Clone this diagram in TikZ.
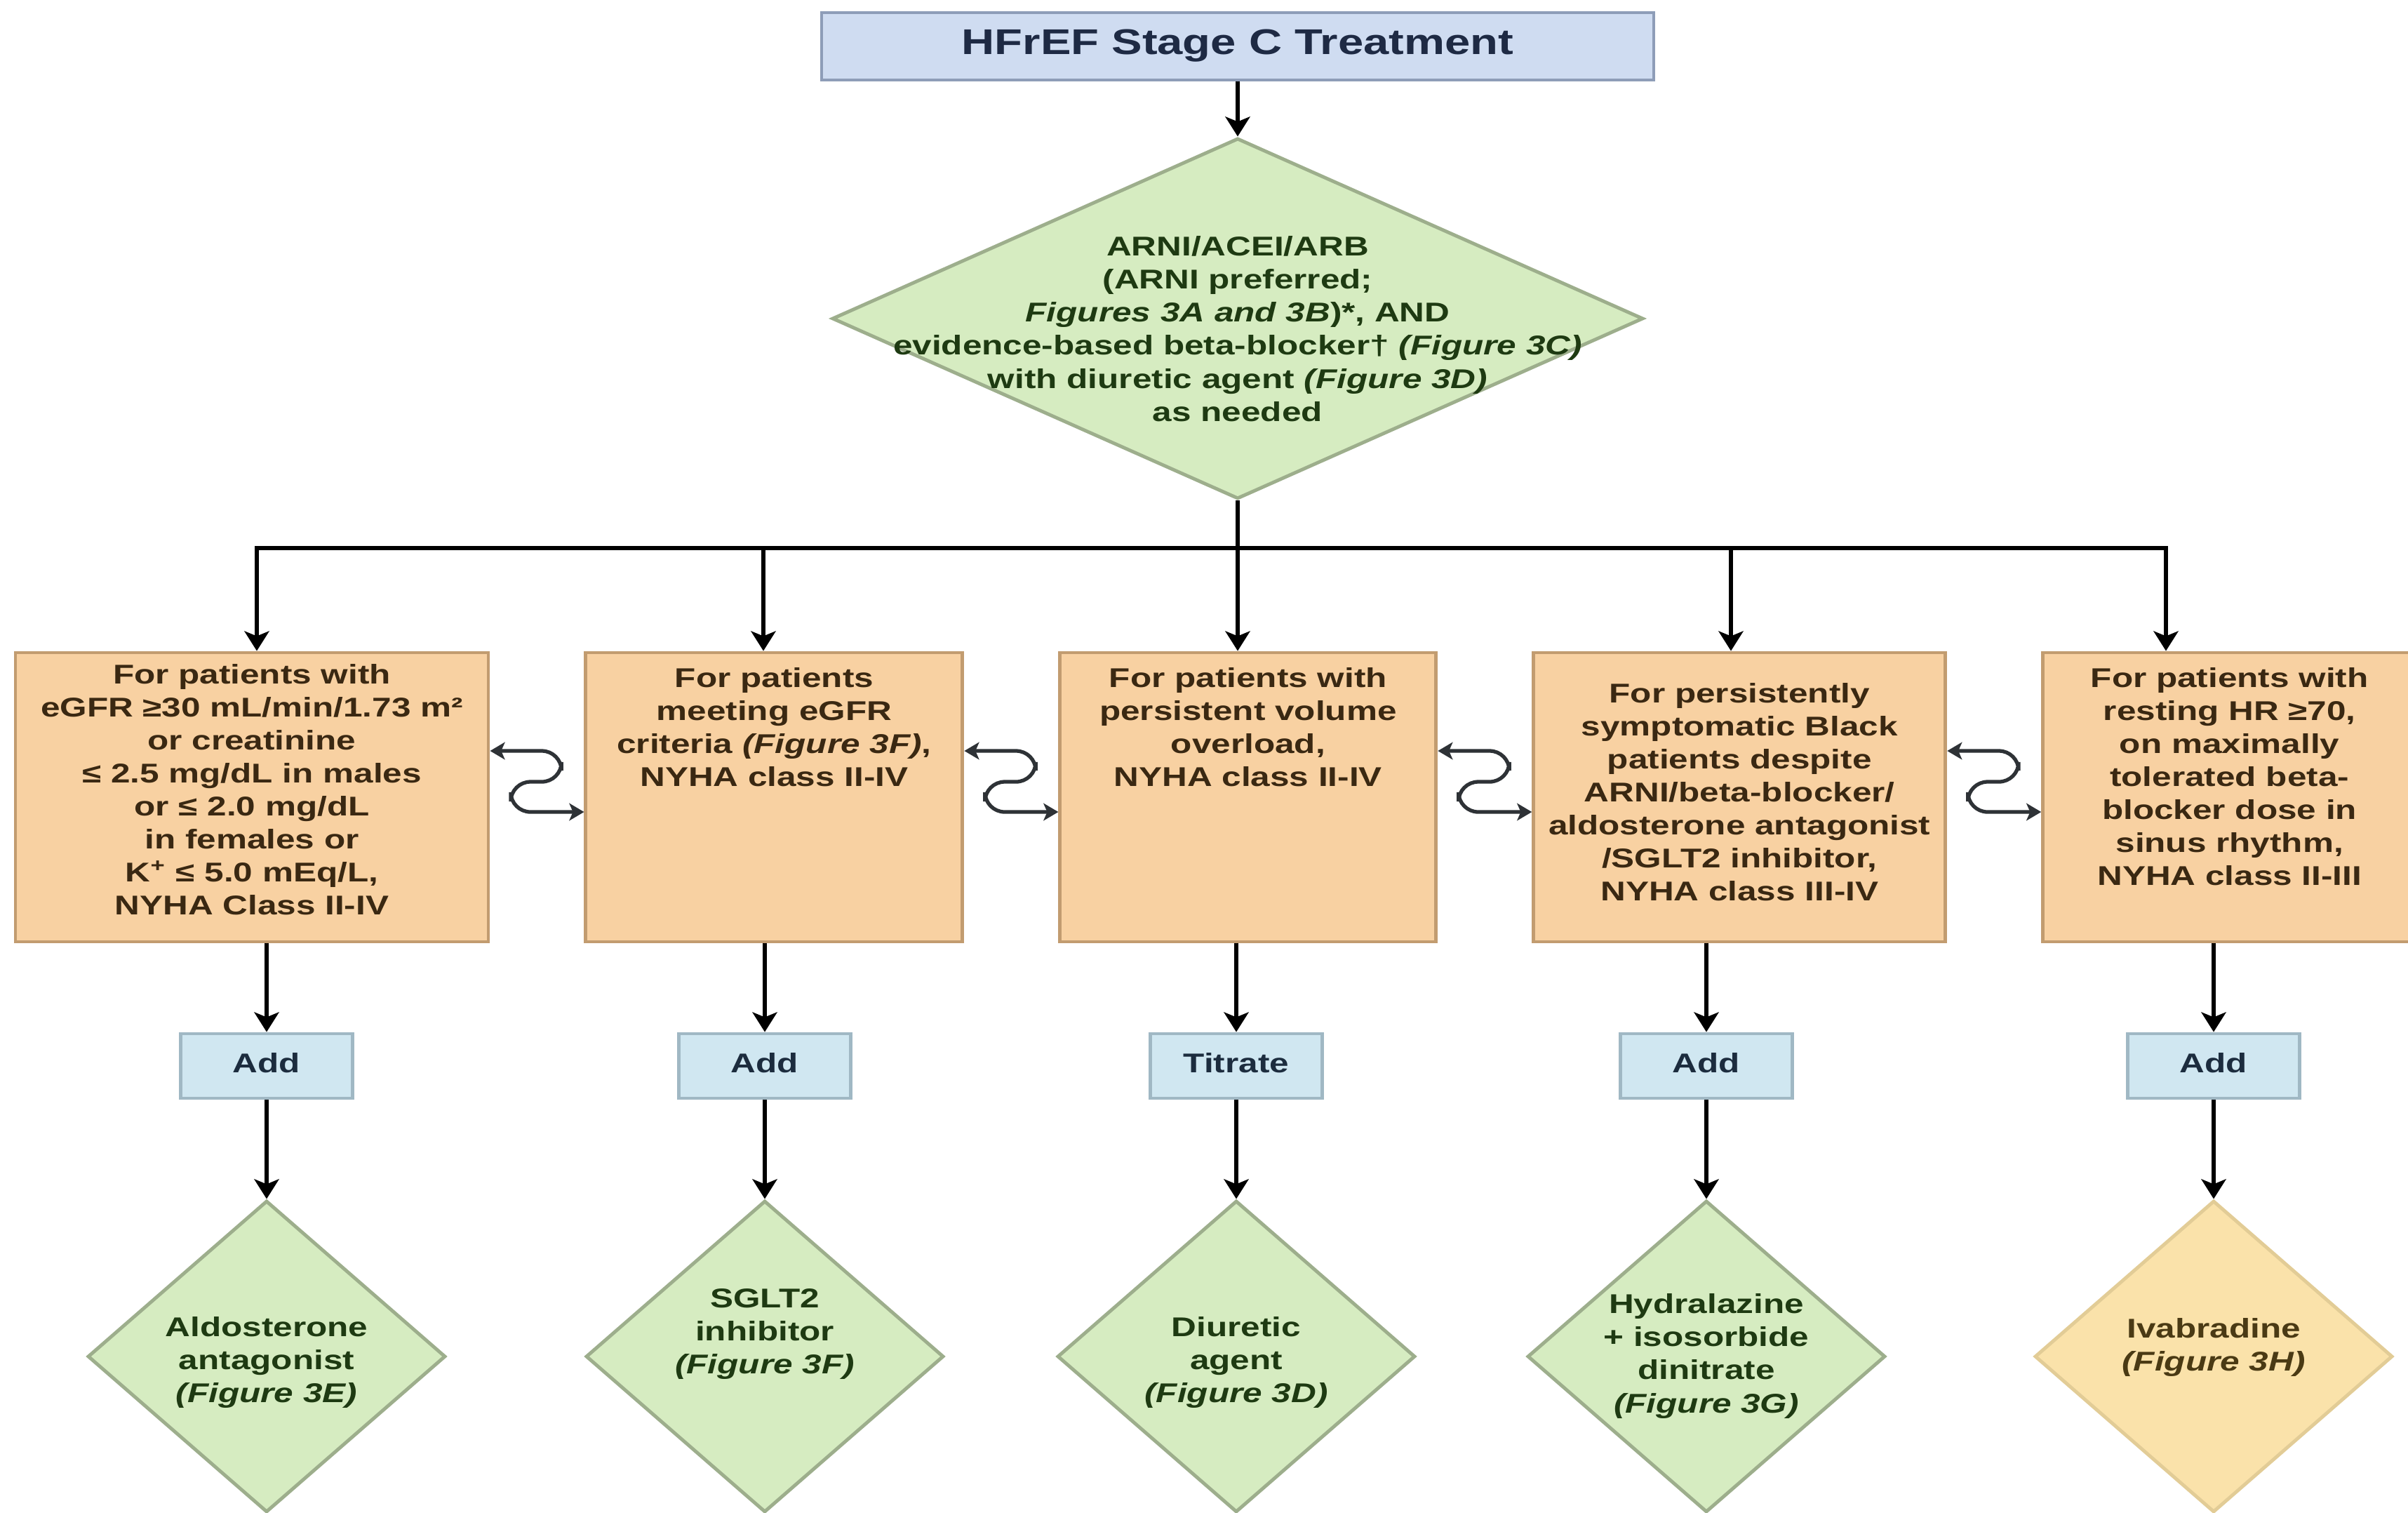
\documentclass[tikz,border=0pt]{standalone}
\usepackage{fontspec}
\setmainfont{Liberation Sans}
\usepackage{graphicx}
\usetikzlibrary{positioning,shapes.geometric,arrows.meta,calc}

\definecolor{titlefill}{HTML}{CFDCF1}
\definecolor{titleline}{HTML}{8E9DB8}
\definecolor{titleink}{HTML}{1E2A44}
\definecolor{critfill}{HTML}{F8D1A2}
\definecolor{critline}{HTML}{C29C70}
\definecolor{critink}{HTML}{3A2812}
\definecolor{drugfill}{HTML}{D6ECC1}
\definecolor{drugline}{HTML}{9DAE8C}
\definecolor{drugink}{HTML}{1E3A12}
\definecolor{ivafill}{HTML}{FAE2AA}
\definecolor{ivaline}{HTML}{E2CC96}
\definecolor{ivaink}{HTML}{4A3A14}
\definecolor{stepfill}{HTML}{D0E7F1}
\definecolor{stepline}{HTML}{A0B8C4}
\definecolor{stepink}{HTML}{1C2C3E}
\definecolor{swapgray}{HTML}{2E3236}

\newcommand{\HFTextStretch}{1.28}
\newcommand{\HFBoxGap}{1.34cm}
\newcommand{\hfwide}[1]{\scalebox{\HFTextStretch}[1]{\begin{tabular}{@{}c@{}}#1\end{tabular}}}

\tikzset{
  hfbase/.style={font=\bfseries\fontsize{11}{13.4}\selectfont, inner sep=0pt},
  titlebox/.style={draw=titleline, fill=titlefill, line width=1.4pt, minimum width=11.86cm, minimum height=0.96cm, text=titleink, font=\bfseries\fontsize{14.5}{17}\selectfont},
  crit/.style={draw=critline, fill=critfill, line width=1.4pt, minimum height=4.12cm, inner sep=0pt},
  crittext/.style={hfbase, text=critink, anchor=north},
  drug/.style={diamond, draw=drugline, fill=drugfill, line width=1.4pt, minimum width=5.1cm, minimum height=4.44cm, inner sep=0pt},
  drugtext/.style={hfbase, text=drugink},
  addbox/.style={draw=stepline, fill=stepfill, line width=1.4pt, minimum width=2.45cm, minimum height=0.92cm, hfbase, text=stepink},
  link/.style={line width=1.8pt, black},
  arr/.style={link, -{Stealth[length=8pt,width=10pt,inset=2pt]}},
  twoway/.style={draw=swapgray, line width=1.5pt, rounded corners=8pt, {Stealth[length=6pt,width=7pt,inset=1.5pt]}-{Stealth[length=6pt,width=7pt,inset=1.5pt]}}
}

\begin{document}
\begin{tikzpicture}
  \useasboundingbox (0,0) rectangle (34.32,-21.55);

  % first line therapy
  \node[titlebox] (title) at (17.64,-0.66) {\hfwide{HFrEF Stage C Treatment}};
  \node[drug, minimum width=11.56cm, minimum height=5.14cm, below=0.78cm of title] (arni) {};
  \node[drugtext] (arnitxt) at ([yshift=-0.19cm]arni.center) {\hfwide{ARNI/ACEI/ARB\\(ARNI preferred;\\\textit{Figures 3A and 3B})*, AND\\evidence-based beta-blocker† \textit{(Figure 3C)}\\with diuretic agent \textit{(Figure 3D)}\\as needed}};

  % patient criteria
  \node[crit, minimum width=6.74cm] (c1) at (3.59,-11.36) {};
  \node[crit, minimum width=5.37cm, right=\HFBoxGap of c1] (c2) {};
  \node[crit, minimum width=5.36cm, right=\HFBoxGap of c2] (c3) {};
  \node[crit, minimum width=5.87cm, right=\HFBoxGap of c3] (c4) {};
  \node[crit, minimum width=5.32cm, right=\HFBoxGap of c4] (c5) {};

  \node[crittext] (c1txt) at ([yshift=-0.13cm]c1.north) {\hfwide{For patients with\\eGFR ≥30 mL/min/1.73 m²\\or creatinine\\≤ 2.5 mg/dL in males\\or ≤ 2.0 mg/dL\\in females or\\K\textsuperscript{+} ≤ 5.0 mEq/L,\\NYHA Class II-IV}};
  \node[crittext] (c2txt) at ([yshift=-0.18cm]c2.north) {\hfwide{For patients\\meeting eGFR\\criteria \textit{(Figure 3F)},\\NYHA class II-IV}};
  \node[crittext] (c3txt) at ([yshift=-0.18cm]c3.north) {\hfwide{For patients with\\persistent volume\\overload,\\NYHA class II-IV}};
  \node[crittext] (c4txt) at ([yshift=-0.40cm]c4.north) {\hfwide{For persistently\\symptomatic Black\\patients despite\\ARNI/beta-blocker/\\aldosterone antagonist\\/SGLT2 inhibitor,\\NYHA class III-IV}};
  \node[crittext] (c5txt) at ([yshift=-0.18cm]c5.north) {\hfwide{For patients with\\resting HR ≥70,\\on maximally\\tolerated beta-\\blocker dose in\\sinus rhythm,\\NYHA class II-III}};

  % next step
  \node[addbox] (s1) at (3.80,-15.19) {\hfwide{Add}};
  \node[addbox] (s2) at (10.90,-15.19) {\hfwide{Add}};
  \node[addbox] (s3) at (17.62,-15.19) {\hfwide{Titrate}};
  \node[addbox] (s4) at (24.32,-15.19) {\hfwide{Add}};
  \node[addbox] (s5) at (31.55,-15.19) {\hfwide{Add}};

  % added drugs
  \node[drug, below=1.41cm of s1] (d1) {};
  \node[drug, below=1.41cm of s2] (d2) {};
  \node[drug, below=1.41cm of s3] (d3) {};
  \node[drug, below=1.41cm of s4] (d4) {};
  \node[drug, fill=ivafill, draw=ivaline, below=1.41cm of s5] (d5) {};

  \node[drugtext] (d1txt) at ([yshift=-0.09cm]d1.center) {\hfwide{Aldosterone\\antagonist\\\textit{(Figure 3E)}}};
  \node[drugtext] (d2txt) at ([yshift=0.32cm]d2.center) {\hfwide{SGLT2\\inhibitor\\\textit{(Figure 3F)}}};
  \node[drugtext] (d3txt) at ([yshift=-0.09cm]d3.center) {\hfwide{Diuretic\\agent\\\textit{(Figure 3D)}}};
  \node[drugtext] (d4txt) at (d4.center) {\hfwide{Hydralazine\\+ isosorbide\\dinitrate\\\textit{(Figure 3G)}}};
  \node[drugtext, text=ivaink] (d5txt) at ([yshift=0.12cm]d5.center) {\hfwide{Ivabradine\\\textit{(Figure 3H)}}};

  % connectors
  \draw[arr] (title) -- (arni);
  \coordinate (j1) at (3.66,-7.81);
  \coordinate (j2) at (10.88,-7.81);
  \coordinate (j3) at (17.64,-7.81);
  \coordinate (j4) at (24.67,-7.81);
  \coordinate (j5) at (30.87,-7.81);
  \draw[link] (arni.south) -- (j3);
  \draw[link, line cap=rect] (j1) -- (j5);
  \foreach \j/\c in {j1/c1,j2/c2,j3/c3,j4/c4,j5/c5}
    \draw[arr] (\j) -- (\j |- \c.north);

  \foreach \c/\s/\d in {c1/s1/d1,c2/s2/d2,c3/s3/d3,c4/s4/d4,c5/s5/d5}{
    \draw[arr] (\s |- \c.south) -- (\s.north);
    \draw[arr] (\s) -- (\d);
  }

  % switching between options
  \foreach \a/\b in {c1/c2,c2/c3,c3/c4,c4/c5}
    \draw[twoway] let \p1=(\a.east), \p2=(\b.west) in
      (\x1,-10.70cm) -- ({\x1+0.76*(\x2-\x1)},-10.70cm) -- ({\x1+0.76*(\x2-\x1)},-11.14cm)
      -- ({\x1+0.22*(\x2-\x1)},-11.14cm) -- ({\x1+0.22*(\x2-\x1)},-11.57cm) -- (\x2,-11.57cm);
\end{tikzpicture}
\end{document}
